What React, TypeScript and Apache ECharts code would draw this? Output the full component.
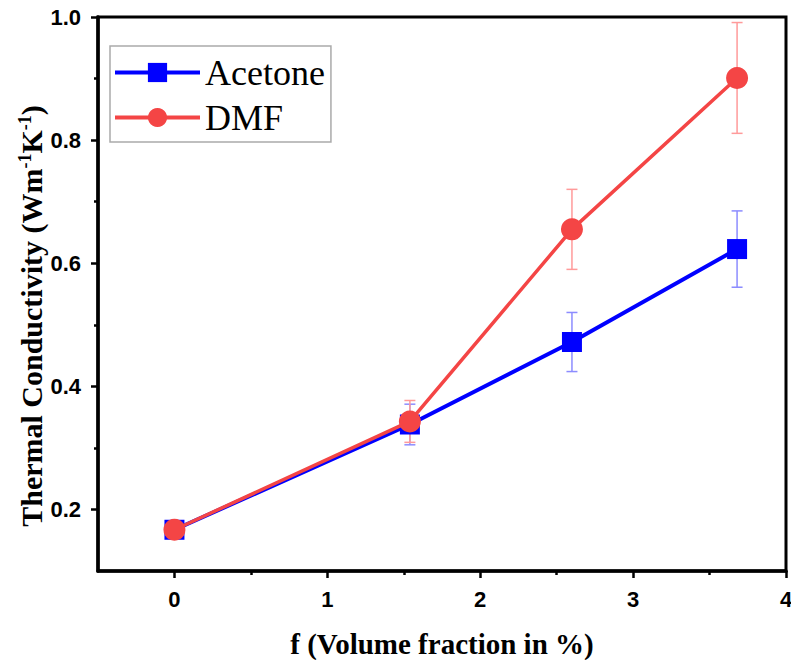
import React, { useEffect, useRef } from "react";
import * as echarts from "echarts";

const xValues = [0, 1.54, 2.6, 3.68];
const acetone = [0.167, 0.338, 0.472, 0.623];
const acetoneErr = [0.005, 0.033, 0.048, 0.062];
const dmf = [0.167, 0.343, 0.655, 0.901];
const dmfErr = [0.005, 0.034, 0.065, 0.09];
const xMajor = [0, 1, 2, 3, 4];
const xMinor = [0.5, 1.5, 2.5, 3.5];
const yMajor = [0.2, 0.4, 0.6, 0.8, 1.0];
const yMinor = [0.3, 0.5, 0.7, 0.9];

const BLUE = "#0000ff";
const RED = "#f44545";
const BLUE_ERR = "#8c8cff";
const RED_ERR = "#ff9a9a";

function errSeries(vals: number[], errs: number[], color: string) {
  return {
    type: "custom",
    silent: true,
    z: 1,
    data: xValues.map((x, i) => [x, vals[i] - errs[i], vals[i] + errs[i]]),
    renderItem: (_p: any, api: any) => {
      const lo = api.coord([api.value(0), api.value(1)]);
      const hi = api.coord([api.value(0), api.value(2)]);
      const hw = 5.5;
      const style = { stroke: color, lineWidth: 1.5 };
      return {
        type: "group",
        children: [
          { type: "line", shape: { x1: lo[0], y1: lo[1], x2: hi[0], y2: hi[1] }, style },
          { type: "line", shape: { x1: lo[0] - hw, y1: lo[1], x2: lo[0] + hw, y2: lo[1] }, style },
          { type: "line", shape: { x1: hi[0] - hw, y1: hi[1], x2: hi[0] + hw, y2: hi[1] }, style },
        ],
      };
    },
  };
}

export default function App() {
  const ref = useRef<HTMLDivElement>(null);
  useEffect(() => {
    if (!ref.current) return;
    const chart = echarts.init(ref.current, null, { renderer: "svg" });
    const tickFont = { fontFamily: "Liberation Sans", fontWeight: "bold", fontSize: 22, color: "#000" };
    const option: any = {
      animation: false,
      backgroundColor: "#fff",
      grid: {
        left: 98,
        top: 17,
        right: 5,
        bottom: 89,
        show: true,
        borderColor: "#000",
        borderWidth: 3,
        containLabel: false,
        outerBoundsMode: "none",
      },
      legend: {
        left: 110,
        top: 46,
        orient: "vertical",
        padding: [8, 6, 6, 3],
        itemGap: 8,
        itemWidth: 85,
        itemHeight: 24,
        borderColor: "#aaa",
        borderWidth: 1.5,
        lineStyle: { width: 4 },
        textStyle: { fontFamily: "Liberation Serif", fontSize: 36, color: "#000", lineHeight: 37 },
        data: ["Acetone", "DMF"],
      },
      graphic: [
        {
          type: "text",
          x: 31,
          y: 316,
          rotation: Math.PI / 2,
          style: {
            text: "Thermal Conductivity (Wm{sup|-1}K{sup|-1})",
            font: "bold 30px 'Liberation Serif'",
            fill: "#000",
            align: "center",
            verticalAlign: "middle",
            rich: {
              sup: {
                font: "bold 18px 'Liberation Serif'",
                fill: "#000",
                verticalAlign: "top",
                padding: [0, 0, 12, 0],
              },
            },
          },
        },
      ],
      xAxis: [
        {
          type: "value",
          min: -0.5,
          max: 4,
          splitLine: { show: false },
          axisLine: { show: true, onZero: false, lineStyle: { color: "#000", width: 3.5 } },
          axisTick: { show: true, customValues: xMajor, length: 7, lineStyle: { color: "#000", width: 2.5 } },
          axisLabel: { customValues: xMajor, margin: 17, ...tickFont, formatter: (v: number) => String(v) },
          name: "f (Volume fraction in %)",
          nameLocation: "middle",
          nameGap: 58,
          nameTextStyle: { fontFamily: "Liberation Serif", fontWeight: "bold", fontSize: 29, color: "#000" },
        },
        {
          type: "value",
          min: -0.5,
          max: 4,
          position: "bottom",
          splitLine: { show: false },
          axisLine: { show: false, onZero: false },
          axisTick: { show: true, customValues: xMinor, length: 4, lineStyle: { color: "#000", width: 2.5 } },
          axisLabel: { show: false },
        },
      ],
      yAxis: [
        {
          type: "value",
          min: 0.1,
          max: 1.0,
          splitLine: { show: false },
          axisLine: { show: true, onZero: false, lineStyle: { color: "#000", width: 3.5 } },
          axisTick: { show: true, customValues: yMajor, length: 7, lineStyle: { color: "#000", width: 2.5 } },
          axisLabel: { customValues: yMajor, margin: 17, ...tickFont, formatter: (v: number) => v.toFixed(1) },
        },
        {
          type: "value",
          min: 0.1,
          max: 1.0,
          position: "left",
          splitLine: { show: false },
          axisLine: { show: false, onZero: false },
          axisTick: { show: true, customValues: yMinor, length: 4, lineStyle: { color: "#000", width: 2.5 } },
          axisLabel: { show: false },
        },
      ],
      series: [
        errSeries(acetone, acetoneErr, BLUE_ERR),
        errSeries(dmf, dmfErr, RED_ERR),
        {
          name: "Acetone",
          type: "line",
          z: 3,
          data: xValues.map((x, i) => [x, acetone[i]]),
          symbol: "rect",
          symbolSize: 20,
          itemStyle: { color: BLUE },
          lineStyle: { color: BLUE, width: 4 },
        },
        {
          name: "DMF",
          type: "line",
          z: 4,
          data: xValues.map((x, i) => [x, dmf[i]]),
          symbol: "circle",
          symbolSize: 22,
          itemStyle: { color: RED },
          lineStyle: { color: RED, width: 3.5 },
        },
      ],
    };
    chart.setOption(option);
    return () => chart.dispose();
  }, []);
  return <div ref={ref} style={{ width: 791, height: 660, position: "absolute", left: 0, top: 0 }} />;
}
